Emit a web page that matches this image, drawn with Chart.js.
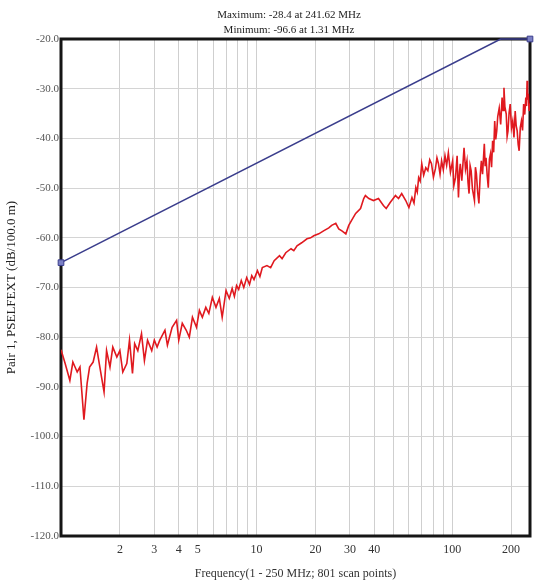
<!DOCTYPE html>
<html lang="en">
  <head>
    <meta charset="UTF-8" />
    <title>Pair 1 PSELFEXT</title>
    <script src="https://cdnjs.cloudflare.com/ajax/libs/Chart.js/4.4.1/chart.umd.min.js"></script>
    <style>
      html, body { margin: 0; padding: 0; background: #fff; }
      .chart-box { width: 535px; height: 586px; }
    </style>
  </head>
  <body>
    <div class="chart-box"><canvas id="pselfextChart"></canvas></div>
    <script>
      // measured curve (MHz / dB)
      const measFreq = [
        1.0, 1.05, 1.11, 1.15, 1.21, 1.25, 1.31, 1.36, 1.40, 1.46, 1.52, 1.58, 1.66, 1.71, 1.78, 1.84, 1.93,
        2.0, 2.07, 2.17, 2.24, 2.32, 2.38, 2.47, 2.58, 2.67, 2.77, 2.91, 3.0, 3.1, 3.2, 3.4, 3.5, 3.7, 3.9, 4.0, 4.17, 4.37, 4.53, 4.7, 4.93,
        5.1, 5.28, 5.5, 5.7, 5.94, 6.2, 6.45, 6.67, 6.98, 7.25, 7.5, 7.7, 7.9, 8.1, 8.35, 8.6, 8.9, 9.2, 9.45, 9.7, 10.1, 10.4, 10.7,
        11.3, 11.8, 12.3, 13.1, 13.5, 14.1, 15.0, 15.5, 16.1, 17.0, 18.1, 18.9, 19.6, 20.8, 22.0, 23.4, 24.2, 25.4, 26.3, 27.3, 28.6, 29.6, 30.6, 32.1, 34.0, 35.3, 36.0,
        37.5, 39.6, 42.0, 44.5, 46.0, 48.2, 51.3, 53.2, 55.2, 57.9, 60.1, 62.3, 63.8, 65.2, 66.3, 67.4, 68.6, 69.9, 71.5, 73.3, 75.1, 76.8, 78.4, 80.2, 82.1, 83.6, 85.1, 86.7, 88.3, 90.1, 91.9, 93.7, 95.6, 98,
        100.6, 102, 104, 106, 107.7, 109, 110, 112, 115, 117, 119, 120.5, 122, 123.5, 125, 127, 130, 131.5, 133, 135, 137, 139, 141, 143, 146,
        147.5, 149, 151, 153, 155, 157, 159, 161, 163, 165, 167, 169, 171, 174, 177, 180, 182, 184, 186, 189, 191, 193, 195.5, 198, 201,
        204, 207, 210, 212.5, 215, 217.5, 220, 223, 226, 229, 232, 235, 238, 240, 241.62, 243, 245, 247.5, 250
      ];
      const measDb = [
        -82.5, -85.3, -88.7, -85, -87, -86, -96.6, -89.3, -86, -85, -82, -86, -91, -82.7, -86, -82, -84,
        -82.7, -87, -85.3, -80.6, -87.3, -81.3, -82.7, -79.3, -84.7, -80.6, -82.7, -80.6, -82, -80.6, -78.6, -81.6, -78, -76.6, -80.6, -77.2, -78.6, -80, -76, -78,
        -74.6, -76, -74, -75.2, -72, -74, -72.2, -76, -70.6, -72.2, -70.2, -71.8, -69.6, -70.4, -68.6, -70, -68, -69.4, -67.6, -68.4, -66.6, -67.8, -66,
        -65.6, -66, -64.6, -63.6, -64.2, -63, -62.2, -62.6, -61.6, -61, -60.2, -60, -59.6, -59.2, -58.6, -58, -57.5, -57.1, -58.2, -58.6, -59.2, -57.5, -56.5, -55.1, -54.1, -52.1, -51.5,
        -52.1, -52.5, -52.1, -53.5, -54.1, -52.9, -51.5, -52.1, -51.1, -52.5, -53.9, -51.9, -53, -49.9, -50.8, -47.9, -48.6, -45.1, -47.4, -45.9, -46.5, -44.3, -45.1, -47.8, -46.1, -43.9, -45.1, -47.2, -44.5, -46.3, -43.5, -45.4, -42.9, -46.8,
        -44.5, -49.5, -47.9, -43.5, -51.9, -46.8, -45.1, -48.5, -41.9, -46.2, -44.5, -48.8, -51.1, -45.5, -46.5, -50.2, -52.5, -45.8, -47.1, -50.8, -53.1, -47.6, -44.5, -47.2, -41.1,
        -45.6, -43.9, -47.4, -49.9, -44.2, -43.1, -45.8, -40.5, -42.8, -36.5, -40.2, -38.5, -35.6, -33.9, -37.2, -31.8, -34.4, -29.8, -33.6, -35.1, -39.6, -38.5, -34.8, -33.1, -37.9,
        -36.5, -39.8, -34.5, -37.5, -38.5, -41.2, -42.5, -37.8, -36.5, -38.4, -33.1, -35.2, -31.8, -33.5, -28.4, -32.2, -31, -34.5, -33
      ];

      // limit line
      const limitFreq = [1, 177, 250];
      const limitDb = [-65, -20, -20];

      // axes
      const xGridValues = [1, 2, 3, 4, 5, 6, 7, 8, 9, 10, 20, 30, 40, 50, 60, 70, 80, 90, 100, 200];
      const xTickLabels = [2, 3, 4, 5, 10, 20, 30, 40, 100, 200];
      const titleLines = ["Maximum: -28.4 at 241.62 MHz", "Minimum: -96.6 at 1.31 MHz"];

      const serif = "'Liberation Serif', 'DejaVu Serif', serif";

      const frame = {
        id: "frame",
        beforeDatasetsDraw(chart) {
          const { ctx, chartArea: a } = chart;
          ctx.save();
          ctx.strokeStyle = "#151515";
          ctx.lineWidth = 3;
          ctx.strokeRect(a.left, a.top, a.right - a.left, a.bottom - a.top);
          ctx.restore();
        },
      };

      const topTitle = {
        id: "topTitle",
        afterDraw(chart) {
          const ctx = chart.ctx;
          ctx.save();
          ctx.fillStyle = "#222";
          ctx.font = "11px " + serif;
          ctx.textAlign = "center";
          ctx.textBaseline = "middle";
          titleLines.forEach((t, i) => ctx.fillText(t, 289, 15 + i * 15));
          ctx.restore();
        },
      };

      const ctx = document.getElementById("pselfextChart").getContext("2d");
      new Chart(ctx, {
        type: "line",
        data: {
          datasets: [
            {
              label: "PSELFEXT",
              data: measFreq.map((f, i) => ({ x: f, y: measDb[i] })),
              borderColor: "#e0191f",
              borderWidth: 1.6,
              pointRadius: 0,
              tension: 0,
            },
            {
              label: "Limit",
              data: limitFreq.map((f, i) => ({ x: f, y: limitDb[i] })),
              borderColor: "#3a3d8c",
              borderWidth: 1.6,
              pointStyle: "rect",
              pointRadius: [4, 0, 4],
              pointBackgroundColor: "#7a7fc4",
              pointBorderColor: "#3a3d8c",
              pointBorderWidth: 1,
              tension: 0,
              clip: false,
            },
          ],
        },
        options: {
          responsive: true,
          maintainAspectRatio: false,
          animation: false,
          layout: { padding: { left: 0, right: 2, top: 39, bottom: 0 } },
          plugins: {
            legend: { display: false },
            tooltip: { enabled: false },
          },
          scales: {
            x: {
              type: "logarithmic",
              min: 1,
              max: 250,
              afterFit: (s) => { s.height = 50; },
              afterBuildTicks: (s) => { s.ticks = xGridValues.map((v) => ({ value: v })); },
              border: { display: false },
              grid: { color: "#cfcfcf", lineWidth: 1, drawTicks: false },
              ticks: {
                autoSkip: false,
                maxRotation: 0,
                padding: 7,
                color: "#333",
                font: { family: serif, size: 12 },
                callback: (v) => (xTickLabels.includes(v) ? String(v) : ""),
              },
              title: {
                display: true,
                text: "Frequency(1 - 250 MHz; 801 scan points)",
                color: "#333",
                font: { family: serif, size: 12 },
                padding: { top: 0, bottom: 5 },
              },
            },
            y: {
              min: -120,
              max: -20,
              afterFit: (s) => { s.width = 61; },
              border: { display: false },
              grid: { color: "#d4d4d4", lineWidth: 1, drawTicks: false },
              ticks: {
                stepSize: 10,
                padding: 2,
                color: "#555",
                font: { family: serif, size: 11 },
                callback: (v) => v.toFixed(1),
              },
              title: {
                display: true,
                text: "Pair 1, PSELFEXT (dB/100.0 m)",
                color: "#222",
                font: { family: serif, size: 13 },
                padding: { top: 4, bottom: 0 },
              },
            },
          },
        },
        plugins: [frame, topTitle],
      });
    </script>
  </body>
</html>
